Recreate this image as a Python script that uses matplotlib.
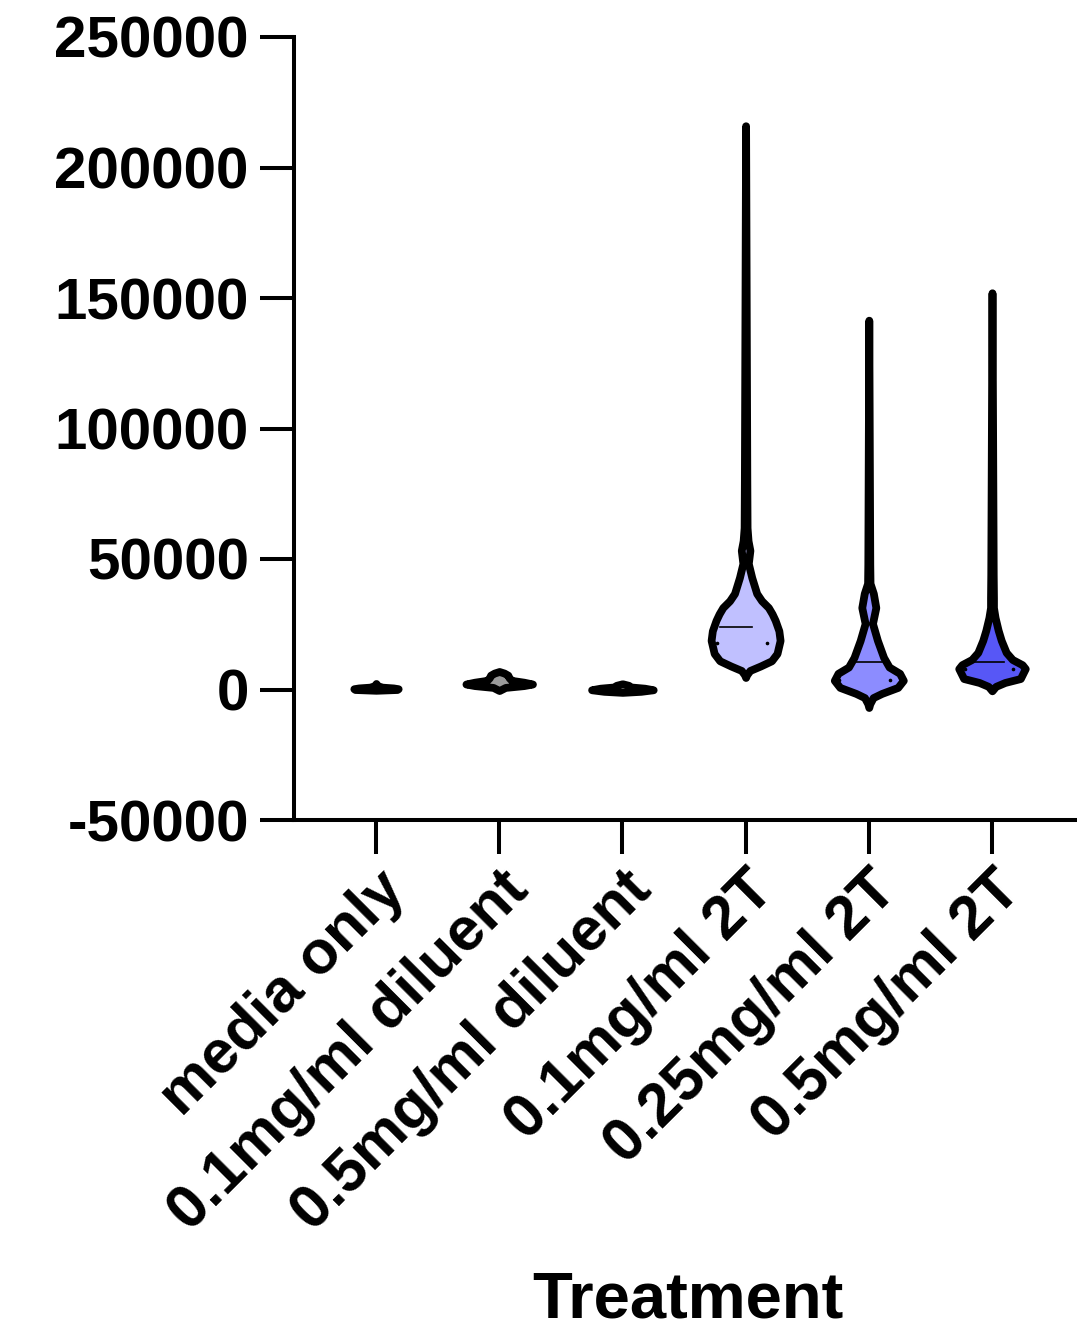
import numpy as np
import matplotlib.pyplot as plt

plt.rcParams["font.family"] = ["Liberation Sans", "DejaVu Sans"]
plt.rcParams["font.weight"] = "bold"
plt.rcParams["axes.unicode_minus"] = False

treatments = ["media only", "0.1mg/ml diluent", "0.5mg/ml diluent",
              "0.1mg/ml 2T", "0.25mg/ml 2T", "0.5mg/ml 2T"]

# violin outlines: value levels and half widths
media_y = [-300, 0, 300, 600, 900, 1500, 2300]
media_w = [0, 0.17, 0.18, 0.14, 0.05, 0.01, 0]

dil01_y = [-400, 800, 1500, 2100, 2800, 3500, 4500, 5500, 6300, 6900]
dil01_w = [0, 0.05, 0.2, 0.27, 0.2, 0.1, 0.08, 0.07, 0.04, 0]

dil05_y = [-1100, -700, -100, 500, 1000, 1600, 2200]
dil05_w = [0, 0.15, 0.25, 0.18, 0.06, 0.05, 0]

t01_y = [4600, 5600, 7300, 9000, 11000, 13800, 18800, 22500, 26500, 29000,
         31400, 34000, 36800, 42900, 48300, 53300, 57000, 62000, 80000, 216000]
t01_w = [0, 0.008, 0.035, 0.12, 0.21, 0.255, 0.28, 0.27, 0.24, 0.215,
         0.185, 0.13, 0.09, 0.05, 0.022, 0.035, 0.02, 0.012, 0.01, 0]

t025_y = [-6900, -5500, -3100, -1500, 800, 3500, 6200, 8600, 12300, 18800,
          25300, 31400, 36800, 40700, 48000, 141500]
t025_w = [0, 0.008, 0.035, 0.105, 0.235, 0.28, 0.25, 0.165, 0.12, 0.07,
          0.03, 0.057, 0.037, 0.01, 0.008, 0]

t05_y = [-500, 1200, 2700, 4200, 8000, 9500, 11500, 14200, 18800, 22700,
         27600, 31400, 35000, 44000, 152000]
t05_w = [0, 0.03, 0.105, 0.23, 0.27, 0.245, 0.165, 0.115, 0.075, 0.05,
         0.025, 0.012, 0.012, 0.01, 0]

profiles = [(media_y, media_w), (dil01_y, dil01_w), (dil05_y, dil05_w),
            (t01_y, t01_w), (t025_y, t025_w), (t05_y, t05_w)]

medians = [None, None, None, 23800, 10400, 10700]
quartile_dots = [None, None, None, 18000, 3500, 8000]

fill_colors = ["#9a9a9a", "#9a9a9a", "#9a9a9a", "#c0c0ff", "#8c8cff", "#5757f6"]
median_span = [None, None, None, (-0.21, 0.05), (-0.10, 0.11), (-0.15, 0.10)]
dot_span = [None, None, None, (-0.23, 0.17), (-0.24, 0.17), (-0.22, 0.17)]

fig = plt.figure(figsize=(10.77, 13.34), dpi=100)
ax = fig.add_axes([294 / 1077, 514 / 1334, 783 / 1077, 783 / 1334])

for i, (ys, ws) in enumerate(profiles):
    ys = np.array(ys, dtype=float)
    ws = np.array(ws, dtype=float)
    ax.fill_betweenx(ys, i - ws, i + ws, facecolor=fill_colors[i],
                     edgecolor="black", linewidth=5.6, joinstyle="round",
                     capstyle="round", zorder=2)
    if medians[i] is not None:
        lo, hi = median_span[i]
        ax.plot([i + lo, i + hi], [medians[i], medians[i]], color="black",
                linewidth=1.2, zorder=3)
    if quartile_dots[i] is not None:
        lo, hi = dot_span[i]
        ax.plot([i + lo, i + hi], [quartile_dots[i]] * 2, linestyle="none",
                marker="o", markersize=1.6, color="black", zorder=3)

ax.set_xlim(-0.6656, 5.69)
ax.set_ylim(-50000, 250000)
ax.set_yticks(np.arange(-50000, 250001, 50000))
ax.set_xticks(range(len(treatments)))
ax.set_xticklabels(treatments, rotation=45, ha="right", va="top",
                   rotation_mode="anchor", fontsize=44, fontweight="bold")
for lab in ax.get_yticklabels():
    lab.set_fontsize(42)
    lab.set_fontweight("bold")

for side in ["top", "right"]:
    ax.spines[side].set_visible(False)
for side in ["left", "bottom"]:
    ax.spines[side].set_linewidth(2.9)
ax.tick_params(axis="both", width=2.9, length=24.5, direction="out")
ax.tick_params(axis="y", pad=8)
ax.tick_params(axis="x", pad=5)

ax.set_xlabel("Treatment", fontsize=47, fontweight="bold", va="top")
ax.xaxis.set_label_coords(0.503, -0.575)

fig.savefig("out.png", dpi=100)
